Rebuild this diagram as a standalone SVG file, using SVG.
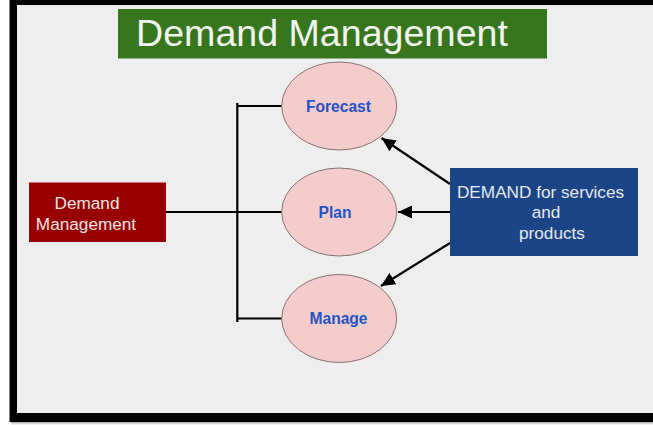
<svg xmlns="http://www.w3.org/2000/svg" width="653" height="425" viewBox="0 0 653 425">
<defs>
<linearGradient id="shadow" x1="0" y1="0" x2="0" y2="1"><stop offset="0" stop-color="#8a8a8a"/><stop offset="1" stop-color="#ffffff"/></linearGradient>
<marker id="arrow" markerUnits="userSpaceOnUse" markerWidth="16" markerHeight="14" refX="14" refY="6.5" orient="auto"><path d="M0 0L14 6.5L0 13Z" fill="#000"/></marker>
</defs>
<style>
text{font-family:"Liberation Sans",Arial,sans-serif}
.o{fill:#f4cccc;stroke:#8b7373;stroke-width:1}
.l{font-size:15.6px;font-weight:700;fill:#2453c4;text-anchor:middle}
.w{font-size:17.2px;fill:#f1e4e2;text-anchor:middle}
.b{font-size:17.2px;fill:#e4e9f2;text-anchor:middle}
.c{fill:none;stroke:#000;stroke-width:2.2}
</style>
<rect width="653" height="425" fill="#fff"/>
<rect x="11" y="421" width="642" height="4" fill="url(#shadow)"/>
<rect x="9.500" y="0" width="644" height="422" fill="#000"/>
<rect x="17" y="5" width="636" height="408" fill="#eeeeee"/>
<g id="title"><rect x="118" y="9" width="429" height="49.500" fill="#38761d"/><text x="322" y="46" font-size="37.600" fill="#f2f5ef" text-anchor="middle">Demand Management</text></g>
<g id="connectors">
<path class="c" d="M237.300 103V322"/>
<path class="c" d="M237 106H282"/>
<path class="c" d="M166 212H282"/>
<path class="c" d="M237 318.500H282"/>
<path class="c" d="M450 184L381.500 138" marker-end="url(#arrow)"/>
<path class="c" d="M450 212H398" marker-end="url(#arrow)"/>
<path class="c" d="M450 243L381 286" marker-end="url(#arrow)"/>
</g>
<g id="forecast"><ellipse class="o" cx="339.200" cy="106" rx="57.500" ry="44"/><text class="l" x="338.500" y="112">Forecast</text></g>
<g id="plan"><ellipse class="o" cx="339.200" cy="212" rx="57.500" ry="44"/><text class="l" x="335" y="218">Plan</text></g>
<g id="manage"><ellipse class="o" cx="339.200" cy="318.500" rx="57.500" ry="44"/><text class="l" x="338.500" y="324">Manage</text></g>
<g id="demand-management"><rect x="29" y="182.500" width="137" height="59.500" fill="#980000"/><text class="w" x="87" y="208.500">Demand</text><text class="w" x="86" y="229.500">Management</text></g>
<g id="demand-box"><rect x="450" y="168" width="188" height="88" fill="#1c4587"/><text class="b" x="540.500" y="198">DEMAND for services</text><text class="b" x="546" y="218">and</text><text class="b" x="552" y="239">products</text></g>
</svg>
